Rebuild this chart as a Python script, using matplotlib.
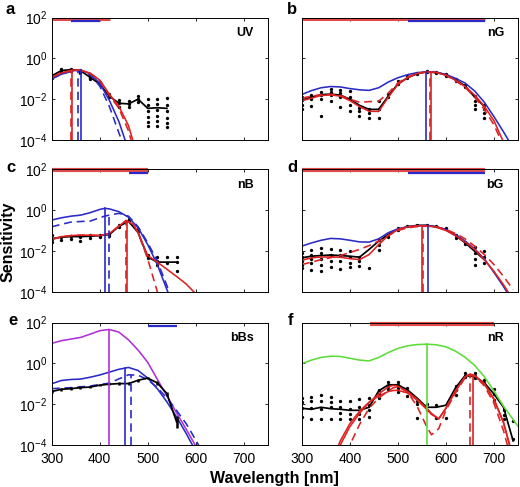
import numpy as np
import matplotlib.pyplot as plt

plt.rcParams['font.family'] = ['Liberation Sans', 'DejaVu Sans']
plt.rcParams['mathtext.default'] = 'regular'

RED = '#dc2222'
BAR_RED = '#e04a4a'
BLUE = '#2a2ac8'
MAG = '#b030d8'
GREEN = '#5cdc38'
DASH = (0, (5, 3))

x_ticks = [300, 400, 500, 600, 700]
y_ticks = [1e-4, 1e-2, 1e0, 1e2]
y_ticklabels = [r'$10^{-4}$', r'$10^{-2}$', r'$10^{0}$', r'$10^{2}$']

# all sensitivities are log10 values

# ---- a : UV
a_wl = [300, 320, 340, 350, 360, 380, 400, 420, 440, 460, 470, 480]
a_red = [-0.93, -0.72, -0.6, -0.57, -0.58, -0.72, -1.06, -1.75, -2.35, -3.3, -4.1, -4.8]
a_red_d = [-0.93, -0.72, -0.6, -0.57, -0.58, -0.74, -1.1, -1.8, -2.45, -3.55, -4.4, -5.0]
a_blue = [-1.0, -0.78, -0.63, -0.59, -0.57, -0.75, -1.22, -2.05, -3.1, -4.5, -5.0, -5.5]
a_blue_d = [-1.0, -0.78, -0.64, -0.6, -0.6, -0.8, -1.35, -2.35, -3.65, -4.9, -5.3, -5.6]
a_black_wl = [300, 320, 340, 360, 380, 400, 420, 440, 460, 480, 500, 520, 540]
a_black = [-0.86, -0.6, -0.55, -0.6, -0.93, -1.25, -1.85, -2.2, -2.23, -2.0, -2.45, -2.42, -2.45]
a_dots = {300: [-0.8, -0.88, -0.95], 320: [-0.52, -0.6, -0.68], 340: [-0.5, -0.55, -0.62],
          360: [-0.55, -0.62, -0.7], 380: [-0.85, -0.95, -1.0], 400: [-1.15, -1.3],
          420: [-1.75, -1.9], 440: [-2.05, -2.2, -2.4], 460: [-2.1, -2.25, -2.4],
          480: [-1.85, -2.0, -2.15], 500: [-2.0, -2.3, -2.6, -2.85, -3.1, -3.3],
          520: [-2.0, -2.25, -2.55, -2.8, -3.05, -3.3], 540: [-1.95, -2.3, -2.6, -2.9, -3.15, -3.35]}
a_peak = {'red': 343, 'red_d': 341, 'blue': 362, 'blue_d': 355}
a_bars = {'red': [300, 421], 'blue': [341, 401]}

# ---- b : nG
b_wl = [300, 320, 340, 360, 380, 400, 420, 440, 460, 480, 500, 520, 540, 560, 580, 600,
        620, 640, 660, 680, 700, 720, 740]
b_blue = [-1.77, -1.58, -1.44, -1.38, -1.4, -1.48, -1.54, -1.57, -1.44, -1.16, -0.95, -0.8,
          -0.7, -0.66, -0.67, -0.79, -0.98, -1.21, -1.6, -2.15, -2.85, -3.6, -4.4]
b_red = [-2.07, -1.95, -1.82, -1.79, -1.85, -2.07, -2.36, -2.59, -2.6, -1.9, -1.28, -0.95,
         -0.75, -0.66, -0.69, -0.82, -1.07, -1.38, -1.8, -2.35, -3.05, -4.1, -5.0]
b_red_d = [-1.95, -1.85, -1.78, -1.76, -1.82, -2.0, -2.15, -2.12, -2.1, -1.7, -1.2, -0.92,
           -0.74, -0.66, -0.69, -0.83, -1.1, -1.42, -1.9, -2.5, -3.25, -4.3, -5.2]
b_black_wl = [300, 320, 340, 360, 380, 400, 420, 440, 460, 480, 500, 520, 540, 560, 580,
              600, 620, 640, 660, 680]
b_black = [-2.05, -1.9, -1.78, -1.75, -1.8, -2.0, -2.3, -2.5, -2.5, -1.85, -1.25, -0.95,
           -0.75, -0.66, -0.7, -0.8, -1.05, -1.35, -1.9, -2.35]
b_dots = {300: [-1.9, -2.05, -2.3, -2.5], 320: [-1.8, -2.0, -2.35], 340: [-1.65, -1.8, -2.0, -2.8],
          360: [-1.5, -1.65, -1.8, -2.1], 380: [-1.55, -1.7, -1.9, -2.4], 400: [-1.6, -1.9, -2.3, -2.6],
          420: [-2.45, -2.6, -2.8], 440: [-2.5, -2.7, -2.9], 460: [-2.1, -2.5, -2.9],
          480: [-1.75, -1.9], 500: [-1.1, -1.25], 520: [-0.85, -0.95], 540: [-0.72, -0.78],
          560: [-0.62, -0.68], 580: [-0.65, -0.72], 600: [-0.75, -0.85], 620: [-1.0, -1.1],
          640: [-1.3, -1.4], 660: [-1.85, -2.1, -2.3, -2.5], 680: [-2.3, -2.5, -2.7, -2.9]}
b_peak = {'red': 568, 'red_d': 566, 'blue': 558}
b_bars = {'red': [300, 682], 'blue': [522, 682]}

# ---- c : nB
c_blue_wl = [300, 320, 340, 360, 380, 400, 410, 420, 440, 460, 480, 500, 520, 540, 560]
c_blue = [-0.49, -0.38, -0.3, -0.25, -0.13, 0.03, 0.08, 0.06, -0.08, -0.35, -0.87, -1.69,
          -2.67, -3.9, -5.0]
c_blue_d = [-0.82, -0.7, -0.59, -0.56, -0.54, -0.38, -0.3, -0.25, -0.16, -0.3, -0.82, -1.6,
            -2.5, -3.7, -4.9]
c_red_wl = [300, 320, 340, 360, 380, 400, 420, 440, 455, 470, 480, 490, 500, 520, 540, 560,
            580, 600]
c_red = [-1.44, -1.31, -1.25, -1.23, -1.23, -1.25, -1.15, -0.79, -0.51, -0.7, -1.11, -1.69,
         -2.23, -2.55, -2.9, -3.25, -3.62, -4.1]
c_red_d = [-1.44, -1.31, -1.25, -1.23, -1.23, -1.25, -1.15, -0.79, -0.51, -0.7, -1.11, -1.75,
           -2.4, -4.0, -5.5, -6.0, -6.0, -6.0]
c_black_wl = [300, 320, 340, 360, 380, 400, 420, 440, 460, 480, 500, 520, 540, 560]
c_black = [-1.4, -1.33, -1.3, -1.3, -1.28, -1.25, -1.2, -0.8, -0.55, -1.1, -2.3, -2.55, -2.55, -2.55]
c_dots = {300: [-1.2, -1.4, -1.55], 320: [-1.3, -1.45], 340: [-1.25, -1.4], 360: [-1.3, -1.5],
          380: [-1.2, -1.35], 400: [-1.2, -1.3], 420: [-1.15, -1.25], 440: [-0.75, -0.85],
          460: [-0.45, -0.55], 480: [-0.95, -1.05], 500: [-2.2, -2.35], 520: [-2.3, -2.5, -2.7],
          540: [-2.3, -2.6], 560: [-2.3, -2.55, -3.0]}
c_peak = {'red': 457, 'red_d': 455, 'blue': 411, 'blue_d': 419}
c_bars = {'red': [300, 500], 'blue': [461, 500]}

# ---- d : bG
d_wl = b_wl
d_blue = [-1.77, -1.61, -1.48, -1.39, -1.41, -1.48, -1.56, -1.57, -1.41, -1.11, -0.92, -0.82,
          -0.77, -0.75, -0.82, -0.95, -1.2, -1.52, -1.9, -2.39, -3.05, -3.75, -4.5]
d_red = [-2.46, -2.34, -2.3, -2.3, -2.31, -2.38, -2.43, -2.18, -1.69, -1.25, -0.95, -0.82,
         -0.77, -0.77, -0.84, -1.0, -1.25, -1.57, -1.93, -2.43, -3.0, -3.66, -4.4]
d_red_d = [-2.67, -2.55, -2.43, -2.33, -2.23, -2.08, -1.93, -1.74, -1.52, -1.25, -1.0, -0.87,
           -0.81, -0.79, -0.82, -0.95, -1.15, -1.41, -1.77, -2.18, -2.67, -3.25, -3.9]
d_black_wl = b_black_wl
d_black = [-2.34, -2.26, -2.23, -2.2, -2.23, -2.26, -2.31, -1.93, -1.52, -1.2, -0.95, -0.82,
           -0.75, -0.75, -0.82, -0.97, -1.25, -1.6, -2.02, -2.43]
d_dots = {300: [-2.1, -2.3, -2.5, -2.7, -2.85], 320: [-1.95, -2.2, -2.4, -2.6, -2.95],
          340: [-1.85, -2.1, -2.4, -2.7, -3.0], 360: [-1.9, -2.2, -2.5, -2.8],
          380: [-1.95, -2.2, -2.5, -2.9], 400: [-2.0, -2.3, -2.6, -2.8], 420: [-2.3, -2.5, -2.75],
          440: [-2.85], 460: [-1.45, -1.7, -1.95], 480: [-1.2, -1.3], 500: [-0.9, -1.0],
          520: [-0.8], 540: [-0.75], 560: [-0.75], 580: [-0.8], 600: [-0.9], 620: [-1.2, -1.35],
          640: [-1.55, -1.65], 660: [-1.8, -2.1, -2.4, -2.7], 680: [-2.0, -2.3, -2.6]}
d_peak = {'red': 550, 'red_d': 553, 'blue': 562}
d_bars = {'red': [300, 682], 'blue': [522, 682]}

# ---- e : bBs
e_wl = [300, 320, 340, 360, 380, 400, 420, 440, 460, 480, 500, 520, 540, 560, 580, 600, 620]
e_mag = [0.98, 1.11, 1.19, 1.27, 1.43, 1.6, 1.66, 1.53, 1.15, 0.65, 0.05, -0.78, -1.6, -2.42,
         -3.22, -4.05, -4.9]
e_blue = [-1.0, -0.84, -0.79, -0.77, -0.68, -0.57, -0.43, -0.29, -0.2, -0.35, -0.72, -1.24,
          -1.89, -2.62, -3.43, -4.3, -5.0]
e_blue_d = [-1.24, -1.21, -1.19, -1.15, -1.11, -1.03, -0.97, -0.76, -0.56, -0.58, -0.8, -1.19,
            -1.7, -2.3, -2.95, -3.75, -4.6]
e_black_wl = [300, 320, 340, 360, 380, 400, 420, 440, 460, 480, 500, 520, 540, 560]
e_black = [-1.38, -1.27, -1.24, -1.19, -1.16, -1.07, -1.02, -0.99, -0.99, -0.83, -0.72, -0.96,
           -1.48, -2.86]
e_err = [0.08, 0.08, 0.08, 0.08, 0.06, 0.06, 0.06, 0.06, 0.06, 0.06, 0.06, 0.08, 0.1, 0.3]
e_peak = {'mag': 419, 'blue': 452, 'blue_d': 466}
e_bars = {'blue': [500, 560]}

# ---- f : nR
f_green_wl = [300, 320, 340, 360, 380, 400, 420, 440, 460, 480, 500, 520, 540, 560, 580, 600,
              620, 640, 660, 680, 700, 720, 740, 760]
f_green = [-0.01, 0.16, 0.29, 0.35, 0.34, 0.25, 0.16, 0.12, 0.29, 0.53, 0.73, 0.86, 0.92, 0.94,
           0.91, 0.81, 0.6, 0.3, -0.1, -0.65, -1.35, -2.1, -2.75, -3.4]
f_red_wl = [360, 380, 400, 420, 440, 460, 480, 490, 500, 520, 540, 560, 570, 585, 600, 620,
            640, 650, 660, 680, 700, 720, 735, 750]
f_red = [-5.0, -4.0, -3.1, -2.45, -1.92, -1.5, -1.15, -1.08, -1.12, -1.38, -1.75, -2.2, -2.45,
         -2.72, -2.2, -1.35, -0.66, -0.53, -0.6, -1.0, -1.75, -2.9, -4.2, -5.5]
f_red2 = [-5.0, -3.8, -2.95, -2.35, -1.9, -1.6, -1.38, -1.33, -1.32, -1.45, -1.8, -2.25, -2.5,
          -2.72, -2.2, -1.35, -0.66, -0.53, -0.6, -1.0, -1.75, -2.9, -4.2, -5.5]
f_red_d = [-6.0, -5.5, -4.0, -3.0, -2.2, -1.7, -1.35, -1.2, -1.15, -1.4, -2.1, -3.1, -3.5,
           -3.2, -2.3, -1.45, -0.7, -0.55, -0.62, -1.1, -1.95, -3.3, -4.6, -6.0]
f_black_wl = [300, 320, 340, 360, 380, 400, 420, 440, 460, 480, 500, 520, 540, 560, 580, 600,
              620, 640, 660, 680, 700, 720, 740]
f_black = [-2.2, -2.25, -2.15, -2.22, -2.25, -2.3, -2.3, -2.15, -1.35, -1.05, -1.05, -1.3, -1.7,
           -2.15, -2.15, -2.05, -1.2, -0.6, -0.65, -0.95, -1.5, -2.15, -3.8]
f_dots = {300: [-1.7, -1.9, -2.2, -2.65], 320: [-1.67, -1.85, -2.2, -2.73],
          340: [-1.55, -1.85, -2.25, -2.73], 360: [-1.65, -1.9, -2.15, -2.73],
          380: [-1.85, -2.15, -2.45, -2.73], 400: [-1.85, -2.25, -2.5, -2.73],
          420: [-1.75, -2.15, -2.5, -2.73], 440: [-1.7, -2.05, -2.3, -2.65],
          460: [-1.3, -1.5, -1.7], 480: [-0.93, -1.1, -1.25], 500: [-0.9, -1.05, -1.2, -1.4],
          520: [-1.2, -1.35, -1.6], 540: [-1.85, -2.0, -2.7], 560: [-2.0, -2.3],
          580: [-2.05, -2.7], 600: [-2.7], 620: [-1.1, -1.3, -1.55], 640: [-0.45, -0.6, -0.69],
          660: [-0.45, -0.6, -0.7], 680: [-0.82, -0.98], 700: [-1.26, -1.5, -1.8],
          720: [-2.3, -2.55, -2.73], 740: [-2.8, -3.7]}
f_peak = {'green': 560, 'red': 656, 'red_d': 650}
f_bars = {'red': [442, 700]}


def lg(v):
    return 10.0 ** np.asarray(v, dtype=float)


def curve(ax, wl, val, color, ls='-'):
    ax.plot(wl, lg(val), color=color, lw=1.15, ls=ls)


def peak(ax, lam, wl, val, color, ls='-'):
    top = np.interp(lam, wl, val)
    ax.plot([lam, lam], [1e-4, 10 ** top], color=color, lw=1.2, ls=ls)


def black(ax, wl, val, dots=None, err=None):
    if dots:
        for w, vals in dots.items():
            ax.plot([w] * len(vals), lg(vals), 'o', color='k', ms=2.4, mew=0)
    ax.plot(wl, lg(val), color='k', lw=1.25)
    if err is not None:
        v = np.asarray(val)
        e = np.asarray(err)
        ax.vlines(wl, lg(v - e), lg(v + e), color='k', lw=1.8)


def bars(ax, spans, lw_red=2.2):
    if 'red' in spans:
        ax.plot(spans['red'], [10 ** 1.94] * 2, color=BAR_RED, lw=lw_red,
                clip_on=False, solid_capstyle='butt')
    if 'blue' in spans:
        ax.plot(spans['blue'], [10 ** 1.82] * 2, color=BLUE, lw=1.6,
                solid_capstyle='butt')


fig = plt.figure(figsize=(5.2, 4.87), dpi=100)
W, H = 0.4155, 0.2515
pos = {'a': [0.0994, 0.7125], 'b': [0.5805, 0.7125],
       'c': [0.0994, 0.4010], 'd': [0.5805, 0.4010],
       'e': [0.0994, 0.0862], 'f': [0.5805, 0.0862]}
names = {'a': 'UV', 'b': 'nG', 'c': 'nB', 'd': 'bG', 'e': 'bBs', 'f': 'nR'}
letter_xy = {'a': (5, 14), 'b': (287, 14), 'c': (6, 172), 'd': (287, 172),
             'e': (8, 325), 'f': (288, 325)}

axes = {}
for k, (x0, y0) in pos.items():
    ax = fig.add_axes([x0, y0, W, H])
    ax.set_yscale('log')
    ax.set_xlim(300, 750)
    ax.set_ylim(1e-4, 1e2)
    ax.set_xticks(x_ticks)
    ax.set_yticks(y_ticks)
    ax.minorticks_off()
    ax.tick_params(direction='in', top=True, right=True, length=2.5, width=0.6,
                   labelsize=10)
    ax.tick_params(axis='x', pad=5)
    ax.tick_params(axis='y', pad=3)
    if k in 'ace':
        ax.set_yticklabels(y_ticklabels)
    else:
        ax.set_yticklabels([])
    if k not in 'ef':
        ax.set_xticklabels([])
    for s in ax.spines.values():
        s.set_linewidth(0.7)
    ax.text(0.935, 0.85, names[k], transform=ax.transAxes, ha='right', va='baseline',
            fontsize=9, fontweight='bold')
    lx, ly = letter_xy[k]
    fig.text(lx / 520, 1 - ly / 487, k, fontsize=12, fontweight='bold', va='baseline')
    axes[k] = ax

# a
ax = axes['a']
bars(ax, a_bars)
black(ax, a_black_wl, a_black, a_dots)
curve(ax, a_wl, a_blue, BLUE)
curve(ax, a_wl, a_blue_d, BLUE, DASH)
curve(ax, a_wl, a_red, RED)
curve(ax, a_wl, a_red_d, RED, DASH)
peak(ax, a_peak['blue'], a_wl, a_blue, BLUE)
peak(ax, a_peak['blue_d'], a_wl, a_blue_d, BLUE, DASH)
peak(ax, a_peak['red'], a_wl, a_red, RED)
peak(ax, a_peak['red_d'], a_wl, a_red_d, RED, DASH)

# b
ax = axes['b']
bars(ax, b_bars)
black(ax, b_black_wl, b_black, b_dots)
curve(ax, b_wl, b_blue, BLUE)
curve(ax, b_wl, b_red, RED)
curve(ax, b_wl, b_red_d, RED, DASH)
peak(ax, b_peak['blue'], b_wl, b_blue, BLUE)
peak(ax, b_peak['red'], b_wl, b_red, RED)
peak(ax, b_peak['red_d'], b_wl, b_red_d, RED, DASH)

# c
ax = axes['c']
bars(ax, c_bars, lw_red=3.0)
black(ax, c_black_wl, c_black, c_dots)
curve(ax, c_blue_wl, c_blue, BLUE)
curve(ax, c_blue_wl, c_blue_d, BLUE, DASH)
curve(ax, c_red_wl, c_red, RED)
curve(ax, c_red_wl, c_red_d, RED, DASH)
peak(ax, c_peak['blue'], c_blue_wl, c_blue, BLUE)
peak(ax, c_peak['blue_d'], c_blue_wl, c_blue_d, BLUE, DASH)
peak(ax, c_peak['red'], c_red_wl, c_red, RED)
peak(ax, c_peak['red_d'], c_red_wl, c_red_d, RED, DASH)

# d
ax = axes['d']
bars(ax, d_bars, lw_red=3.0)
black(ax, d_black_wl, d_black, d_dots)
curve(ax, d_wl, d_blue, BLUE)
curve(ax, d_wl, d_red, RED)
curve(ax, d_wl, d_red_d, RED, DASH)
peak(ax, d_peak['blue'], d_wl, d_blue, BLUE)
peak(ax, d_peak['red'], d_wl, d_red, RED)
peak(ax, d_peak['red_d'], d_wl, d_red_d, RED, DASH)

# e
ax = axes['e']
bars(ax, e_bars)
curve(ax, e_wl, e_mag, MAG)
curve(ax, e_wl, e_blue, BLUE)
curve(ax, e_wl, e_blue_d, BLUE, DASH)
black(ax, e_black_wl, e_black, err=e_err)
peak(ax, e_peak['mag'], e_wl, e_mag, MAG)
peak(ax, e_peak['blue'], e_wl, e_blue, BLUE)
peak(ax, e_peak['blue_d'], e_wl, e_blue_d, BLUE, DASH)

# f
ax = axes['f']
bars(ax, f_bars, lw_red=3.0)
black(ax, f_black_wl, f_black, f_dots)
curve(ax, f_green_wl, f_green, GREEN)
curve(ax, f_red_wl, f_red2, RED)
curve(ax, f_red_wl, f_red, RED)
curve(ax, f_red_wl, f_red_d, RED, DASH)
peak(ax, f_peak['green'], f_green_wl, f_green, GREEN)
peak(ax, f_peak['red'], f_red_wl, f_red, RED)
peak(ax, f_peak['red_d'], f_red_wl, f_red_d, RED, DASH)

fig.text(8 / 520, 0.503, 'Sensitivity', rotation=90, ha='center', va='center',
         fontsize=11.5, fontweight='bold')
fig.text(274 / 520, 1 - 478 / 487, 'Wavelength [nm]', ha='center', va='center',
         fontsize=11.5, fontweight='bold')

fig.savefig('out.png', dpi=100)
